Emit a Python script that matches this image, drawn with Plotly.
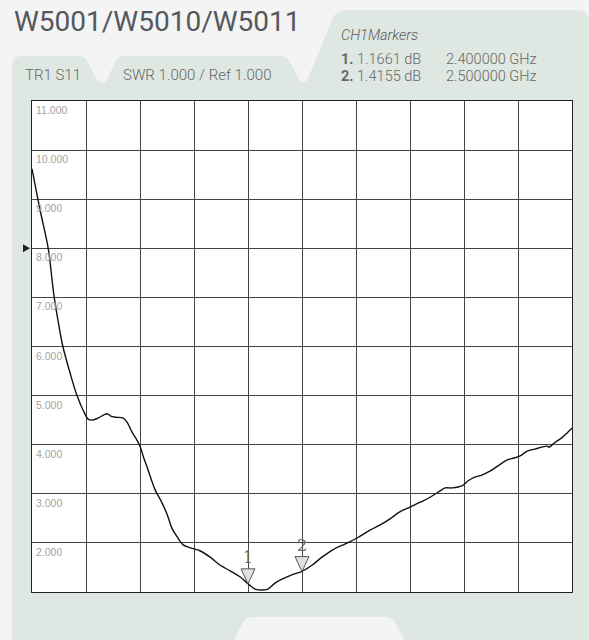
import plotly.graph_objects as go

# ---------------- data ----------------
freq_ghz = [2.000, 2.015, 2.030, 2.037, 2.041, 2.048, 2.057, 2.070, 2.083, 2.096,
            2.104, 2.111, 2.122, 2.139, 2.146, 2.154, 2.169, 2.176, 2.185, 2.194,
            2.200, 2.207, 2.213, 2.220, 2.228, 2.241, 2.252, 2.259, 2.269, 2.280,
            2.293, 2.311, 2.330, 2.348, 2.367, 2.385, 2.400, 2.413, 2.426, 2.437,
            2.450, 2.463, 2.481, 2.500, 2.519, 2.537, 2.557, 2.580, 2.602, 2.626,
            2.644, 2.663, 2.681, 2.700, 2.719, 2.737, 2.756, 2.765, 2.778, 2.796,
            2.807, 2.820, 2.833, 2.848, 2.863, 2.880, 2.893, 2.904, 2.917, 2.931,
            2.954, 2.957, 2.969, 2.981, 2.991, 3.000]
swr = [9.62, 8.78, 8.00, 7.37, 7.01, 6.54, 6.01, 5.48, 5.01, 4.67,
       4.52, 4.50, 4.54, 4.63, 4.58, 4.56, 4.54, 4.46, 4.26, 4.10,
       3.97, 3.73, 3.55, 3.32, 3.08, 2.81, 2.53, 2.30, 2.12, 1.96,
       1.90, 1.84, 1.71, 1.55, 1.43, 1.31, 1.17, 1.06, 1.04, 1.06,
       1.18, 1.26, 1.35, 1.42, 1.55, 1.71, 1.86, 1.98, 2.10, 2.26,
       2.36, 2.49, 2.63, 2.73, 2.83, 2.93, 3.06, 3.12, 3.12, 3.16,
       3.26, 3.34, 3.38, 3.46, 3.57, 3.69, 3.73, 3.77, 3.87, 3.91,
       3.97, 3.95, 4.05, 4.14, 4.24, 4.34]

marker_freq = [2.4, 2.5]
marker_val = [1.1661, 1.4155]
marker_names = ["1", "2"]
marker_lines = [("1.", "1.1661 dB", "2.400000 GHz"),
                ("2.", "1.4155 dB", "2.500000 GHz")]

y_tick_vals = [11, 10, 9, 8, 7, 6, 5, 4, 3, 2]
y_tick_labels = ["11.000", "10.000", "9.000", "8.000", "7.000",
                 "6.000", "5.000", "4.000", "3.000", "2.000"]
ref_level = 8.0

title_text = "W5001/W5010/W5011"
tab1_text = "TR1 S11"
tab2_text = "SWR 1.000 / Ref 1.000"
markers_title = "CH1Markers"

# ---------------- layout helpers ----------------
W, H = 589, 640
ML, MR, MT, MB = 32, 17, 101, 48
PW, PH = W - ML - MR, H - MT - MB

def px(x):
    return (x - ML) / PW

def py(y):
    return (H - MB - y) / PH

def path(cmds):
    out = []
    for c in cmds:
        op = c[0]
        pts = c[1:]
        s = op
        for i in range(0, len(pts), 2):
            s += " %.5f,%.5f" % (px(pts[i]), py(pts[i + 1]))
        out.append(s)
    return " ".join(out) + " Z"

BG = "#f3f4f3"
PANEL = "#dee7e2"

panel_path = path([
    ("M", 12, 660), ("L", 12, 66), ("Q", 12, 56, 22, 56), ("L", 78, 56),
    ("Q", 85, 56, 88, 62), ("L", 96, 78), ("Q", 99, 83, 102, 83),
    ("Q", 105, 83, 108, 78), ("L", 115, 62), ("Q", 118, 56, 125, 56),
    ("L", 280, 56), ("Q", 287, 56, 290, 62), ("L", 298, 78),
    ("Q", 301, 83, 304, 82), ("Q", 307, 81, 309, 76), ("L", 333, 18),
    ("Q", 337, 10, 347, 10), ("L", 577, 10), ("Q", 589, 10, 589, 22),
    ("L", 600, 22), ("L", 600, 660),
])
cut_path = path([
    ("M", 224, 660), ("L", 243, 622), ("Q", 246, 617, 254, 617),
    ("L", 384, 617), ("Q", 392, 617, 395, 622), ("L", 414, 660),
])

shapes = [
    dict(type="path", xref="paper", yref="paper", path=panel_path,
         fillcolor=PANEL, line=dict(width=0), layer="below"),
    dict(type="path", xref="paper", yref="paper", path=cut_path,
         fillcolor=BG, line=dict(width=0), layer="below"),
    dict(type="rect", xref="paper", yref="paper", x0=0, x1=1, y0=0, y1=1,
         fillcolor="#ffffff", line=dict(width=0), layer="below"),
    # reference level indicator
    dict(type="path", xref="paper", yref="y", xsizemode="pixel", ysizemode="pixel",
         xanchor=0, yanchor=ref_level, path="M -9,4 L -2,0 L -9,-4 Z",
         fillcolor="#222222", line=dict(width=0), layer="above"),
]
for f, v in zip(marker_freq, marker_val):
    shapes.append(dict(type="path", xref="x", yref="y", xsizemode="pixel",
                       ysizemode="pixel", xanchor=f, yanchor=v,
                       path="M -7,15 L 7,15 L 0,0 Z", fillcolor="#e1e1e1",
                       line=dict(color="#555555", width=1), layer="above"))

annotations = []
# tick labels inside grid
for v, lab in zip(y_tick_vals, y_tick_labels):
    annotations.append(dict(text=lab, xref="paper", yref="y", x=0, y=v,
                            xanchor="left", yanchor="top", xshift=2, yshift=-1,
                            showarrow=False,
                            font=dict(family="Liberation Sans, Arial, sans-serif",
                                      size=10.5, color="#a3a3a3")))
# marker numbers
for f, v, n in zip(marker_freq, marker_val, marker_names):
    annotations.append(dict(text=n, xref="x", yref="y", x=f, y=v,
                            xanchor="center", yanchor="middle", yshift=26,
                            showarrow=False,
                            font=dict(family="DejaVu Serif, Liberation Serif, serif",
                                      size=16, color="#6a6a6a")))

SANS = "Roboto, Liberation Sans, sans-serif"
def txt(text, x, y, size, color, family=SANS, weight=300, **kw):
    annotations.append(dict(text=text, xref="paper", yref="paper", x=px(x), y=py(y),
                            xanchor="left", yanchor="middle", showarrow=False,
                            borderpad=0,
                            font=dict(family=family, size=size, color=color,
                                      weight=weight), **kw))

txt(title_text, 13, 21, 28, "#55585c", weight=400)
txt(tab1_text, 24, 75, 15, "#676767")
txt(tab2_text, 122, 75, 15, "#676767")
txt("<i>" + markers_title + "</i>", 340, 35, 14.5, "#5a5a5a")
for i, (num, val, fr) in enumerate(marker_lines):
    yy = 60 + i * 17
    txt("<b>" + num + "</b> " + val, 340, yy, 14.5, "#676767")
    txt(fr, 445, yy, 14.5, "#676767")

fig = go.Figure()
fig.add_trace(go.Scatter(x=freq_ghz, y=swr, mode="lines", line_shape="spline",
                         line=dict(color="#111111", width=1.4),
                         hoverinfo="skip", showlegend=False))

axis_common = dict(showgrid=True, gridcolor="#444444", gridwidth=1,
                   showticklabels=False, ticks="", zeroline=False,
                   showline=True, linecolor="#222222", linewidth=1, mirror=True,
                   fixedrange=True)
fig.update_layout(
    width=W, height=H,
    margin=dict(l=ML, r=MR, t=MT, b=MB, pad=0),
    paper_bgcolor=BG, plot_bgcolor="rgba(0,0,0,0)",
    xaxis=dict(range=[2.0, 3.0], tick0=2.0, dtick=0.1, **axis_common),
    yaxis=dict(range=[1, 11], tick0=1, dtick=1, **axis_common),
    shapes=shapes, annotations=annotations, showlegend=False,
)
fig.write_html("out.html", config={"displayModeBar": False},
               post_script="document.body.style.margin='0';")
